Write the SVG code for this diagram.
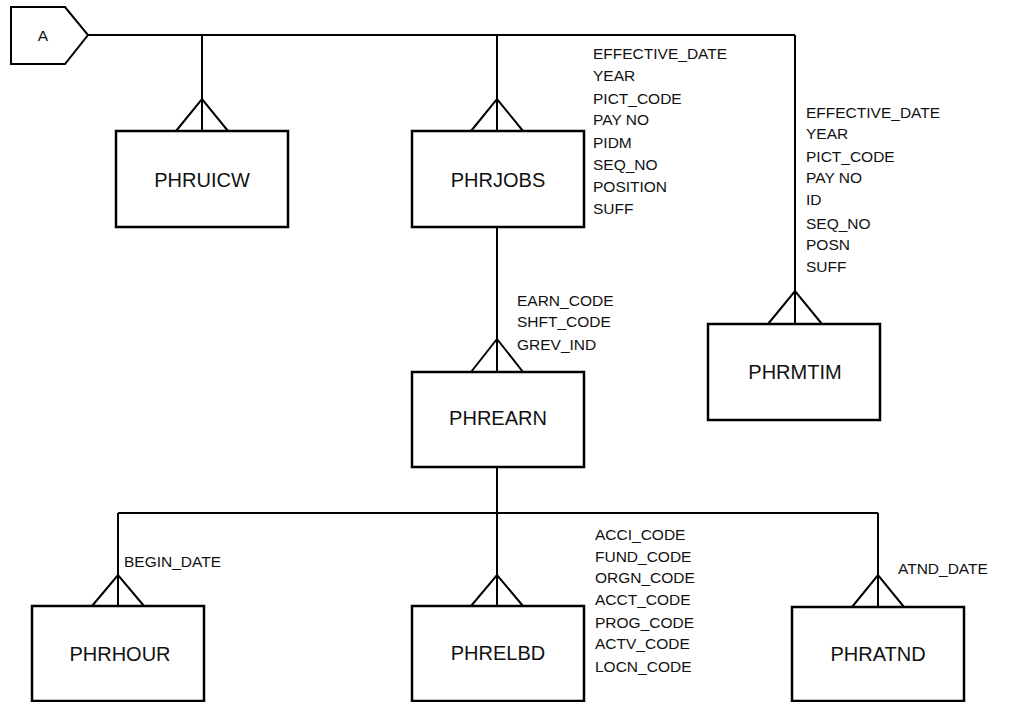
<svg xmlns="http://www.w3.org/2000/svg" width="1013" height="702" viewBox="0 0 1013 702">
<style>
.ln{stroke:#000;stroke-width:2;fill:none}
.box{stroke:#000;stroke-width:2.5;fill:#fff}
.nm{font-family:"Liberation Sans",Arial,sans-serif;font-size:20px;fill:#111;text-anchor:middle}
.at{font-family:"Liberation Sans",Arial,sans-serif;font-size:15.5px;fill:#111}
</style>
<rect width="1013" height="702" fill="#fff"/>
<g id="connectors">
<path class="ln" d="M88 35 H795"/>
<path class="ln" d="M202 35 V131 M176 131 L202 99 L228 131"/>
<path class="ln" d="M497 35 V131 M471 131 L497 99 L523 131"/>
<path class="ln" d="M795 35 V324 M768 324 L795 291 L822 324"/>
<path class="ln" d="M497 227 V372 M471 372 L497 339 L523 372"/>
<path class="ln" d="M497 467 V606 M471 606 L497 575 L523 606"/>
<path class="ln" d="M118 513 H878"/>
<path class="ln" d="M118 513 V606 M92 606 L118 575 L144 606"/>
<path class="ln" d="M878 513 V607 M852 607 L878 575 L904 607"/>
<g class="at">
<text x="593" y="59">EFFECTIVE_DATE</text>
<text x="593" y="81">YEAR</text>
<text x="593" y="104">PICT_CODE</text>
<text x="593" y="125">PAY NO</text>
<text x="593" y="148">PIDM</text>
<text x="593" y="170">SEQ_NO</text>
<text x="593" y="192">POSITION</text>
<text x="593" y="214">SUFF</text>
<text x="806" y="118">EFFECTIVE_DATE</text>
<text x="806" y="139">YEAR</text>
<text x="806" y="162">PICT_CODE</text>
<text x="806" y="183">PAY NO</text>
<text x="806" y="205">ID</text>
<text x="806" y="229">SEQ_NO</text>
<text x="806" y="250">POSN</text>
<text x="806" y="272">SUFF</text>
<text x="517" y="306">EARN_CODE</text>
<text x="517" y="327">SHFT_CODE</text>
<text x="517" y="350">GREV_IND</text>
<text x="124" y="567">BEGIN_DATE</text>
<text x="595" y="540">ACCI_CODE</text>
<text x="595" y="562">FUND_CODE</text>
<text x="595" y="583">ORGN_CODE</text>
<text x="595" y="605">ACCT_CODE</text>
<text x="595" y="628">PROG_CODE</text>
<text x="595" y="649">ACTV_CODE</text>
<text x="595" y="672">LOCN_CODE</text>
<text x="898" y="574">ATND_DATE</text>
</g>
</g>
<g id="A">
<polygon class="ln" points="11,7 65,7 88,35 65,64 11,64"/>
<text class="at" x="43" y="41" text-anchor="middle">A</text>
</g>
<g id="PHRUICW"><rect class="box" x="116" y="131" width="172" height="96"/><text class="nm" x="202" y="187">PHRUICW</text></g>
<g id="PHRJOBS"><rect class="box" x="412" y="131" width="172" height="96"/><text class="nm" x="498" y="187">PHRJOBS</text></g>
<g id="PHRMTIM"><rect class="box" x="708" y="324" width="172" height="96"/><text class="nm" x="795" y="379">PHRMTIM</text></g>
<g id="PHREARN"><rect class="box" x="412" y="372" width="172" height="95"/><text class="nm" x="498" y="425">PHREARN</text></g>
<g id="PHRHOUR"><rect class="box" x="32" y="606" width="172" height="95"/><text class="nm" x="120" y="661">PHRHOUR</text></g>
<g id="PHRELBD"><rect class="box" x="412" y="606" width="172" height="95"/><text class="nm" x="498" y="660">PHRELBD</text></g>
<g id="PHRATND"><rect class="box" x="792" y="607" width="172" height="94"/><text class="nm" x="878" y="661">PHRATND</text></g>
</svg>
